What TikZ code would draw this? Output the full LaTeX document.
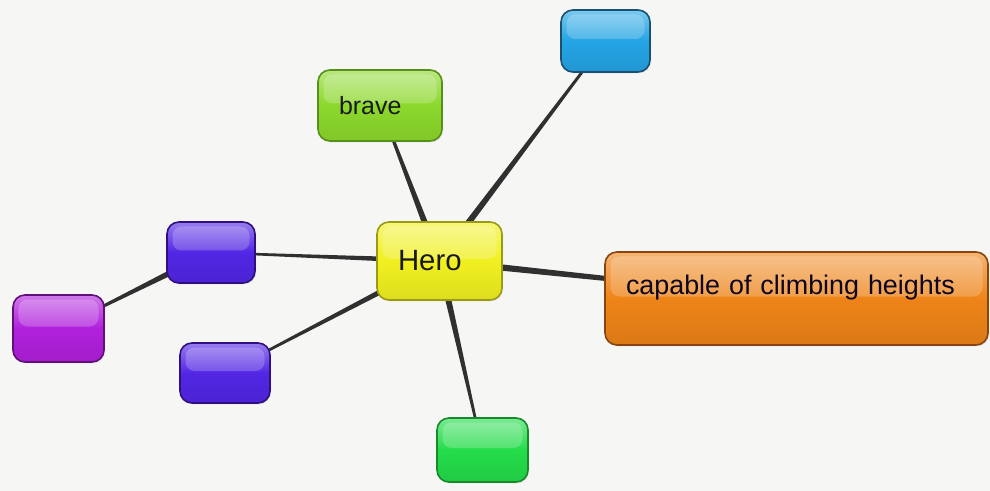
\documentclass[tikz,border=0pt]{standalone}
\usepackage{fontspec}
\setmainfont{Liberation Sans}
\usetikzlibrary{calc,backgrounds,shadows}

\definecolor{paper}{HTML}{F6F6F5}
\definecolor{spokecol}{HTML}{303030}
\definecolor{heroyel}{HTML}{F0F020}
\definecolor{heroyeledge}{HTML}{9A9A14}
\definecolor{bravegrn}{HTML}{8CD82C}
\definecolor{bravegrnedge}{HTML}{55901A}
\definecolor{skyblue}{HTML}{24A4E4}
\definecolor{skyblueedge}{HTML}{1A5070}
\definecolor{climborg}{HTML}{EE8418}
\definecolor{climborgedge}{HTML}{8A4410}
\definecolor{vio}{HTML}{5226E4}
\definecolor{vioedge}{HTML}{301080}
\definecolor{magent}{HTML}{B020DC}
\definecolor{magentedge}{HTML}{601078}
\definecolor{leaf}{HTML}{24DC4A}
\definecolor{leafedge}{HTML}{178A2C}

\tikzset{
  bubble/.style={rounded corners=0.24cm, draw=#1edge, line width=0.9pt,
    top color=#1!60!white, bottom color=#1!92!black, middle color=#1,
    drop shadow={opacity=0.18, shadow xshift=0.6pt, shadow yshift=-0.8pt},
    path picture={\fill[white, opacity=0.2, rounded corners=0.18cm]
      ($(path picture bounding box.north west)+(0.11,-0.09)$) rectangle
      ($(path picture bounding box.east)+(-0.11,0.04)$);},
    inner sep=0pt, text=black!90},
  label text/.style={inner xsep=0.42cm, align=left, text width=#1},
}
\newcommand{\spoke}[4]{\fill[spokecol] ($(#1.center)!#3!90:(#2.center)$) -- ($(#2.center)!#4!-90:(#1.center)$) -- ($(#2.center)!#4!90:(#1.center)$) -- ($(#1.center)!#3!-90:(#2.center)$) -- cycle;}

\begin{document}
\begin{tikzpicture}
\useasboundingbox (0,0) rectangle (19.8,-9.82);

\node [bubble=heroyel, label text=1.66cm, minimum height=1.56cm, font=\fontsize{16.7}{18}\selectfont] (hero) at (8.79,-5.22) {Hero};
\node [bubble=bravegrn, label text=1.64cm, minimum height=1.42cm, font=\fontsize{14.2}{16}\selectfont] (brave) at (7.6,-2.11) {brave};
\node [bubble=skyblue, minimum width=1.78cm, minimum height=1.24cm] (sky) at (12.11,-0.82) {};
\node [bubble=climborg, label text=6.82cm, minimum height=1.86cm, font=\fontsize{15.3}{17}\selectfont, text=black!85!vio, text height=0.36cm, text depth=0.5cm] (climb) at (15.93,-5.97) {capable of climbing heights};
\node [bubble=vio, minimum width=1.76cm, minimum height=1.22cm] (upper) at (4.22,-5.05) {};
\node [bubble=magent, minimum width=1.82cm, minimum height=1.34cm] (far) at (1.17,-6.57) {};
\node [bubble=vio, minimum width=1.8cm, minimum height=1.2cm] (lower) at (4.5,-7.46) {};
\node [bubble=leaf, minimum width=1.82cm, minimum height=1.28cm] (ground) at (9.65,-9.0) {};

\begin{scope}[on background layer]
\fill[paper] (0,0) rectangle (19.8,-9.82);
\spoke{hero}{brave}{2pt}{0.6pt}
\spoke{hero}{sky}{2pt}{0.6pt}
\spoke{hero}{climb}{2pt}{0.8pt}
\spoke{hero}{upper}{1.6pt}{0.5pt}
\spoke{hero}{lower}{1.8pt}{0.5pt}
\spoke{hero}{ground}{2pt}{0.5pt}
\spoke{upper}{far}{2pt}{0.4pt}
\end{scope}
\end{tikzpicture}
\end{document}
